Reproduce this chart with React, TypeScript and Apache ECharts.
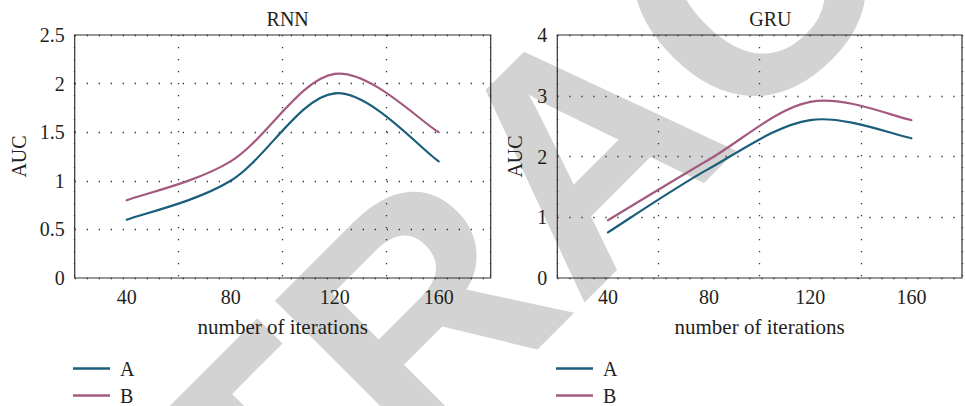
import React, { useEffect, useRef } from "react";
import * as echarts from "echarts";

// ---- data ----
const iterations = [40, 80, 120, 160];
const rnnA = [0.6, 1.0, 1.9, 1.2];
const rnnB = [0.8, 1.2, 2.1, 1.5];
const gruA = [0.75, 1.8, 2.6, 2.3];
const gruB = [0.95, 1.95, 2.9, 2.6];
const seriesNames = ["A", "B"];
const panelTitles = ["RNN", "GRU"];
const xLabelTicks = [40, 80, 120, 160];
const yMax = [2.5, 4];
const yInterval = [0.5, 1];

const COLOR_A = "#1b5e7b";
const COLOR_B = "#a45a80";
const FONT = "'Liberation Serif', 'DejaVu Serif', serif";
const TEXT = "#231f20";

const pairs = (xs: number[], ys: number[]) => xs.map((x, i) => [x, ys[i]]);

// smooth (Catmull-Rom like) curve through the data, drawn with the axis scales
const smoothRender = (xs: number[], ys: number[], color: string) => (params: any, api: any) => {
  const i = params.dataIndex;
  if (i >= xs.length - 1) return { type: "group", children: [] };
  const c = (j: number) => Math.max(0, Math.min(xs.length - 1, j));
  const P = (j: number) => api.coord([xs[c(j)], ys[c(j)]]);
  const p0 = P(i - 1), p1 = P(i), p2 = P(i + 1), p3 = P(i + 2);
  const k = 1 / 6;
  return {
    type: "bezierCurve",
    shape: {
      x1: p1[0], y1: p1[1], x2: p2[0], y2: p2[1],
      cpx1: p1[0] + k * (p2[0] - p0[0]), cpy1: p1[1] + k * (p2[1] - p0[1]),
      cpx2: p2[0] - k * (p3[0] - p1[0]), cpy2: p2[1] - k * (p3[1] - p1[1]),
    },
    style: { stroke: color, lineWidth: 2.2, fill: "none", lineCap: "round" },
  };
};

export default function App() {
  const ref = useRef<HTMLDivElement>(null);
  useEffect(() => {
    if (!ref.current) return;
    const chart = echarts.init(ref.current, undefined, { renderer: "svg" });
    const grids = [
      { left: 74.7, top: 35, width: 416, height: 243 },
      { left: 557.3, top: 35, width: 416, height: 243 },
    ];
    const yNameGap = [46, 32];
    const dotted = { color: "#333", width: 1.3, type: [1.3, 10.7] as any };
    const xAxes: any[] = [];
    const yAxes: any[] = [];
    grids.forEach((_, g) => {
      xAxes.push({
        type: "value",
        gridIndex: g,
        min: 20,
        max: 180,
        interval: 40,
        axisLine: { show: false },
        axisTick: { show: false },
        axisLabel: { show: false },
        splitLine: { show: true, lineStyle: dotted },
      });
      xAxes.push({
        type: "value",
        gridIndex: g,
        min: 20,
        max: 180,
        interval: 20,
        position: "bottom",
        axisLine: { show: false },
        axisTick: { show: false },
        splitLine: { show: false },
        axisLabel: {
          margin: 9,
          fontFamily: FONT,
          fontSize: 20,
          color: TEXT,
          formatter: (v: number) => (xLabelTicks.includes(v) ? String(v) : ""),
        },
        name: "number of iterations",
        nameLocation: "middle",
        nameGap: 38,
        nameTextStyle: { fontFamily: FONT, fontSize: 21, color: TEXT },
      });
      yAxes.push({
        type: "value",
        gridIndex: g,
        min: 0,
        max: yMax[g],
        interval: yInterval[g],
        axisLine: { show: false },
        axisTick: { show: false },
        axisLabel: { margin: 10, fontFamily: FONT, fontSize: 20, color: TEXT },
        splitLine: { show: true, lineStyle: dotted },
        name: "AUC",
        nameLocation: "middle",
        nameGap: yNameGap[g],
        nameTextStyle: { fontFamily: FONT, fontSize: 20, color: TEXT },
      });
    });
    const data = [
      [rnnA, rnnB],
      [gruA, gruB],
    ];
    const series: any[] = [];
    data.forEach((panel, g) => {
      panel.forEach((ys, k) => {
        const color = k === 0 ? COLOR_A : COLOR_B;
        series.push({
          type: "custom",
          name: seriesNames[k],
          coordinateSystem: "cartesian2d",
          xAxisIndex: g * 2 + 1,
          yAxisIndex: g,
          data: pairs(iterations, ys),
          encode: { x: 0, y: 1 },
          renderItem: smoothRender(iterations, ys, color),
          itemStyle: { color },
          silent: true,
          z: 5,
        });
      });
    });
    const legendBase = {
      orient: "vertical",
      top: 358,
      padding: 0,
      icon: "rect",
      itemWidth: 37,
      itemHeight: 2.5,
      itemGap: 6,
      selectedMode: false,
      data: seriesNames,
      textStyle: { fontFamily: FONT, fontSize: 20, color: TEXT, lineHeight: 21, padding: [0, 0, 0, 5] },
    };
    chart.setOption({
      animation: false,
      backgroundColor: "#fff",
      title: panelTitles.map((t, g) => ({
        text: t,
        left: grids[g].left + grids[g].width / 2,
        top: 4,
        textAlign: "center",
        textStyle: { fontFamily: FONT, fontSize: 20, fontWeight: "normal", color: TEXT },
      })),
      grid: grids.map((gr) => ({ ...gr, show: true, borderColor: "#333", borderWidth: 1.2, backgroundColor: "transparent" })),
      xAxis: xAxes,
      yAxis: yAxes,
      series,
      legend: [
        { ...legendBase, left: 73 },
        { ...legendBase, left: 556 },
      ],
      graphic: [
        {
          type: "text",
          z: -10,
          silent: true,
          x: 582,
          y: 148,
          rotation: (45 * Math.PI) / 180,
          style: {
            text: "RETRACTED",
            fontFamily: "'Liberation Sans', Arial, sans-serif",
            fontWeight: "bold",
            fontSize: 320,
            fill: "#d3d3d3",
            textAlign: "center",
            textVerticalAlign: "middle",
          },
        },
      ],
    });
    return () => chart.dispose();
  }, []);
  return (
    <div style={{ position: "fixed", left: 0, top: 0, width: 965, height: 406, overflow: "hidden", background: "#fff" }}>
      <div ref={ref} style={{ width: 965, height: 406 }} />
    </div>
  );
}
